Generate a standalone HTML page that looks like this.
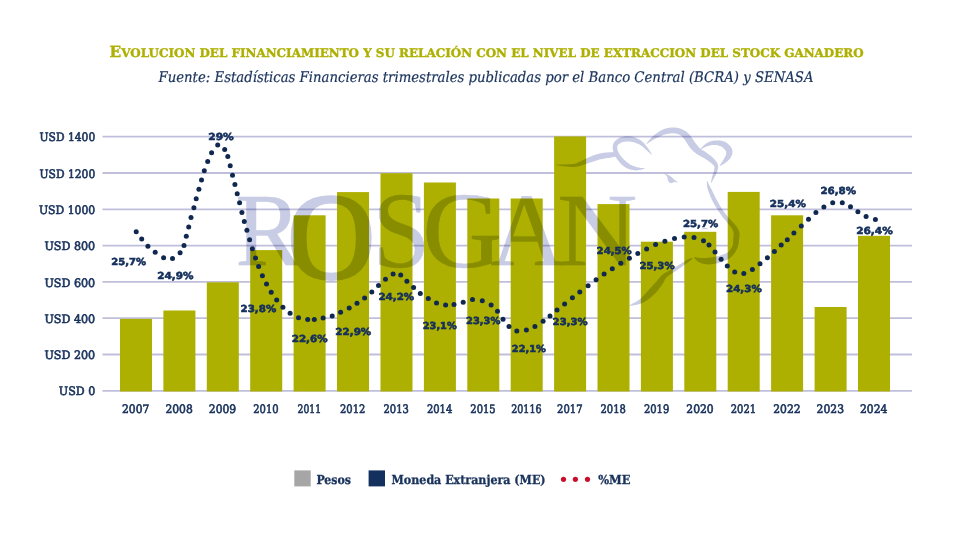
<!DOCTYPE html>
<html lang="es"><head><meta charset="utf-8"><title>Evolucion del financiamiento</title>
<style>html,body{margin:0;padding:0;background:#fff}svg{display:block;text-rendering:geometricPrecision}
.slab{font-family:"DejaVu Serif Condensed","DejaVu Serif","Liberation Serif",serif}
.sans{font-family:"DejaVu Sans","Liberation Sans",sans-serif;font-weight:bold}
.wm{font-family:"Liberation Serif",serif}
</style></head><body>
<svg width="963" height="536" viewBox="0 0 963 536">
<rect width="963" height="536" fill="#fff"/>
<text font-family="DejaVu Serif, Liberation Serif, serif" x="486.6" y="56.8" text-anchor="middle" font-weight="bold" fill="#adb000" stroke="#adb000" stroke-width="0.35" font-size="11.9" textLength="754" lengthAdjust="spacingAndGlyphs"><tspan font-size="15.3">E</tspan>VOLUCION DEL FINANCIAMIENTO Y SU RELACIÓN CON EL NIVEL DE EXTRACCION DEL STOCK GANADERO</text>
<text class="slab" x="486" y="81.9" text-anchor="middle" font-style="italic" fill="#1a335c" stroke="#1a335c" stroke-width="0.2" font-size="14.6" textLength="655" lengthAdjust="spacingAndGlyphs">Fuente: Estadísticas Financieras trimestrales publicadas por el Banco Central (BCRA) y SENASA</text>
<line x1="102.5" x2="912.0" y1="136.70" y2="136.70" stroke="#c0bfdb" stroke-width="1.8"/>
<text font-family="DejaVu Serif, Liberation Serif, serif" x="95.2" y="141.3" text-anchor="end" fill="#1a335c" stroke="#1a335c" stroke-width="0.65" font-size="11.7" textLength="55.6" lengthAdjust="spacingAndGlyphs">USD 1400</text>
<line x1="102.5" x2="912.0" y1="173.00" y2="173.00" stroke="#c0bfdb" stroke-width="1.8"/>
<text font-family="DejaVu Serif, Liberation Serif, serif" x="95.2" y="177.6" text-anchor="end" fill="#1a335c" stroke="#1a335c" stroke-width="0.65" font-size="11.7" textLength="55.6" lengthAdjust="spacingAndGlyphs">USD 1200</text>
<line x1="102.5" x2="912.0" y1="209.30" y2="209.30" stroke="#c0bfdb" stroke-width="1.8"/>
<text font-family="DejaVu Serif, Liberation Serif, serif" x="95.2" y="213.9" text-anchor="end" fill="#1a335c" stroke="#1a335c" stroke-width="0.65" font-size="11.7" textLength="56.2" lengthAdjust="spacingAndGlyphs">USD 1000</text>
<line x1="102.5" x2="912.0" y1="245.60" y2="245.60" stroke="#c0bfdb" stroke-width="1.8"/>
<text font-family="DejaVu Serif, Liberation Serif, serif" x="95.2" y="250.2" text-anchor="end" fill="#1a335c" stroke="#1a335c" stroke-width="0.65" font-size="11.7" textLength="50.8" lengthAdjust="spacingAndGlyphs">USD 800</text>
<line x1="102.5" x2="912.0" y1="281.90" y2="281.90" stroke="#c0bfdb" stroke-width="1.8"/>
<text font-family="DejaVu Serif, Liberation Serif, serif" x="95.2" y="286.5" text-anchor="end" fill="#1a335c" stroke="#1a335c" stroke-width="0.65" font-size="11.7" textLength="50.8" lengthAdjust="spacingAndGlyphs">USD 600</text>
<line x1="102.5" x2="912.0" y1="318.20" y2="318.20" stroke="#c0bfdb" stroke-width="1.8"/>
<text font-family="DejaVu Serif, Liberation Serif, serif" x="95.2" y="322.8" text-anchor="end" fill="#1a335c" stroke="#1a335c" stroke-width="0.65" font-size="11.7" textLength="50.8" lengthAdjust="spacingAndGlyphs">USD 400</text>
<line x1="102.5" x2="912.0" y1="354.50" y2="354.50" stroke="#c0bfdb" stroke-width="1.8"/>
<text font-family="DejaVu Serif, Liberation Serif, serif" x="95.2" y="359.1" text-anchor="end" fill="#1a335c" stroke="#1a335c" stroke-width="0.65" font-size="11.7" textLength="50.8" lengthAdjust="spacingAndGlyphs">USD 200</text>
<line x1="102.5" x2="912.0" y1="390.80" y2="390.80" stroke="#c0bfdb" stroke-width="1.8"/>
<text font-family="DejaVu Serif, Liberation Serif, serif" x="95.2" y="395.4" text-anchor="end" fill="#1a335c" stroke="#1a335c" stroke-width="0.65" font-size="11.7" textLength="36.4" lengthAdjust="spacingAndGlyphs">USD 0</text>
<rect x="120.0" y="318.9" width="32" height="72.6" fill="#adb000"/>
<text font-family="DejaVu Serif, Liberation Serif, serif" x="135.7" y="412.8" text-anchor="middle" fill="#1a335c" stroke="#1a335c" stroke-width="0.65" font-size="11.7" textLength="27.4" lengthAdjust="spacingAndGlyphs">2007</text>
<rect x="163.4" y="310.5" width="32" height="81.0" fill="#adb000"/>
<text font-family="DejaVu Serif, Liberation Serif, serif" x="179.1" y="412.8" text-anchor="middle" fill="#1a335c" stroke="#1a335c" stroke-width="0.65" font-size="11.7" textLength="27.4" lengthAdjust="spacingAndGlyphs">2008</text>
<rect x="206.8" y="282.3" width="32" height="109.2" fill="#adb000"/>
<text font-family="DejaVu Serif, Liberation Serif, serif" x="222.5" y="412.8" text-anchor="middle" fill="#1a335c" stroke="#1a335c" stroke-width="0.65" font-size="11.7" textLength="27.4" lengthAdjust="spacingAndGlyphs">2009</text>
<rect x="250.2" y="250.1" width="32" height="141.4" fill="#adb000"/>
<text font-family="DejaVu Serif, Liberation Serif, serif" x="265.9" y="412.8" text-anchor="middle" fill="#1a335c" stroke="#1a335c" stroke-width="0.65" font-size="11.7" textLength="25.4" lengthAdjust="spacingAndGlyphs">2010</text>
<rect x="293.6" y="215.3" width="32" height="176.2" fill="#adb000"/>
<text font-family="DejaVu Serif, Liberation Serif, serif" x="309.3" y="412.8" text-anchor="middle" fill="#1a335c" stroke="#1a335c" stroke-width="0.65" font-size="11.7" textLength="23.5" lengthAdjust="spacingAndGlyphs">2011</text>
<rect x="337.0" y="192.1" width="32" height="199.4" fill="#adb000"/>
<text font-family="DejaVu Serif, Liberation Serif, serif" x="352.7" y="412.8" text-anchor="middle" fill="#1a335c" stroke="#1a335c" stroke-width="0.65" font-size="11.7" textLength="25.4" lengthAdjust="spacingAndGlyphs">2012</text>
<rect x="380.5" y="173.2" width="32" height="218.3" fill="#adb000"/>
<text font-family="DejaVu Serif, Liberation Serif, serif" x="396.2" y="412.8" text-anchor="middle" fill="#1a335c" stroke="#1a335c" stroke-width="0.65" font-size="11.7" textLength="25.4" lengthAdjust="spacingAndGlyphs">2013</text>
<rect x="423.9" y="182.5" width="32" height="209.0" fill="#adb000"/>
<text font-family="DejaVu Serif, Liberation Serif, serif" x="439.6" y="412.8" text-anchor="middle" fill="#1a335c" stroke="#1a335c" stroke-width="0.65" font-size="11.7" textLength="25.4" lengthAdjust="spacingAndGlyphs">2014</text>
<rect x="467.3" y="198.5" width="32" height="193.0" fill="#adb000"/>
<text font-family="DejaVu Serif, Liberation Serif, serif" x="483.0" y="412.8" text-anchor="middle" fill="#1a335c" stroke="#1a335c" stroke-width="0.65" font-size="11.7" textLength="25.4" lengthAdjust="spacingAndGlyphs">2015</text>
<rect x="510.7" y="198.5" width="32" height="193.0" fill="#adb000"/>
<text font-family="DejaVu Serif, Liberation Serif, serif" x="526.4" y="412.8" text-anchor="middle" fill="#1a335c" stroke="#1a335c" stroke-width="0.65" font-size="11.7" textLength="30.4" lengthAdjust="spacingAndGlyphs">20116</text>
<rect x="554.1" y="136.4" width="32" height="255.1" fill="#adb000"/>
<text font-family="DejaVu Serif, Liberation Serif, serif" x="569.8" y="412.8" text-anchor="middle" fill="#1a335c" stroke="#1a335c" stroke-width="0.65" font-size="11.7" textLength="25.4" lengthAdjust="spacingAndGlyphs">2017</text>
<rect x="597.5" y="204.1" width="32" height="187.4" fill="#adb000"/>
<text font-family="DejaVu Serif, Liberation Serif, serif" x="613.2" y="412.8" text-anchor="middle" fill="#1a335c" stroke="#1a335c" stroke-width="0.65" font-size="11.7" textLength="25.4" lengthAdjust="spacingAndGlyphs">2018</text>
<rect x="640.9" y="241.7" width="32" height="149.8" fill="#adb000"/>
<text font-family="DejaVu Serif, Liberation Serif, serif" x="656.6" y="412.8" text-anchor="middle" fill="#1a335c" stroke="#1a335c" stroke-width="0.65" font-size="11.7" textLength="25.4" lengthAdjust="spacingAndGlyphs">2019</text>
<rect x="684.3" y="231.8" width="32" height="159.7" fill="#adb000"/>
<text font-family="DejaVu Serif, Liberation Serif, serif" x="700.0" y="412.8" text-anchor="middle" fill="#1a335c" stroke="#1a335c" stroke-width="0.65" font-size="11.7" textLength="27.4" lengthAdjust="spacingAndGlyphs">2020</text>
<rect x="727.7" y="191.9" width="32" height="199.6" fill="#adb000"/>
<text font-family="DejaVu Serif, Liberation Serif, serif" x="743.4" y="412.8" text-anchor="middle" fill="#1a335c" stroke="#1a335c" stroke-width="0.65" font-size="11.7" textLength="25.4" lengthAdjust="spacingAndGlyphs">2021</text>
<rect x="771.1" y="215.3" width="32" height="176.2" fill="#adb000"/>
<text font-family="DejaVu Serif, Liberation Serif, serif" x="786.9" y="412.8" text-anchor="middle" fill="#1a335c" stroke="#1a335c" stroke-width="0.65" font-size="11.7" textLength="27.4" lengthAdjust="spacingAndGlyphs">2022</text>
<rect x="814.6" y="307.0" width="32" height="84.5" fill="#adb000"/>
<text font-family="DejaVu Serif, Liberation Serif, serif" x="830.3" y="412.8" text-anchor="middle" fill="#1a335c" stroke="#1a335c" stroke-width="0.65" font-size="11.7" textLength="27.4" lengthAdjust="spacingAndGlyphs">2023</text>
<rect x="858.0" y="235.8" width="32" height="155.7" fill="#adb000"/>
<text font-family="DejaVu Serif, Liberation Serif, serif" x="873.7" y="412.8" text-anchor="middle" fill="#1a335c" stroke="#1a335c" stroke-width="0.65" font-size="11.7" textLength="27.4" lengthAdjust="spacingAndGlyphs">2024</text>
<g fill="#c8cce4" stroke="#c8cce4" stroke-width="0.5" stroke-linejoin="round" class="wm" font-size="104" style="mix-blend-mode:multiply">
<text transform="translate(235.4 265.3) scale(0.950 1.000)">R</text>
<text transform="translate(287.6 277.5) scale(1.000 1.012)" font-size="121" stroke-width="3.4">O</text>
<text transform="translate(372.2 266.6) scale(1.000 1.045)">S</text>
<text transform="translate(422.2 266.6) scale(1.065 1.045)">G</text>
<text transform="translate(490.5 265.3) scale(0.980 1.000)">A</text>
<text transform="translate(557.0 265.3) scale(1.070 1.000)">N</text>
</g>
<g fill="#c8cce4" style="mix-blend-mode:multiply">
<path d="M556.0 165.0 L556.7 165.1 L557.5 165.3 L558.6 165.5 L559.8 165.7 L561.0 165.9 L562.3 166.1 L563.7 166.2 L565.0 166.4 L566.3 166.5 L567.6 166.6 L569.1 166.8 L570.5 166.9 L572.0 166.9 L573.5 167.0 L575.0 166.9 L576.5 166.8 L578.0 166.5 L579.4 166.2 L580.7 165.8 L582.0 165.3 L583.3 164.9 L584.6 164.4 L585.9 163.9 L587.2 163.5 L588.7 163.0 L590.2 162.5 L591.8 161.9 L593.4 161.4 L594.9 160.9 L596.5 160.4 L598.0 159.9 L599.3 159.5 L600.7 159.2 L602.1 158.9 L603.5 158.7 L604.9 158.5 L606.2 158.3 L607.6 158.1 L608.9 157.9 L610.1 157.7 L611.2 157.5 L612.4 157.3 L613.5 157.1 L614.5 157.0 L615.5 156.8 L616.4 156.7 L617.1 156.5 L617.7 156.4 L617.5 152.6 L616.9 152.5 L616.2 152.5 L615.3 152.4 L614.3 152.3 L613.2 152.3 L612.0 152.2 L610.7 152.2 L609.5 152.3 L608.3 152.4 L607.0 152.5 L605.6 152.6 L604.1 152.7 L602.6 152.9 L601.0 153.2 L599.4 153.5 L597.9 153.9 L596.2 154.4 L594.6 154.9 L593.0 155.6 L591.4 156.2 L589.8 156.9 L588.3 157.6 L586.8 158.3 L585.4 158.9 L584.0 159.5 L582.7 160.2 L581.5 160.9 L580.3 161.5 L579.2 162.1 L578.1 162.6 L577.0 163.1 L575.9 163.4 L574.6 163.7 L573.3 163.9 L571.9 164.1 L570.5 164.2 L569.1 164.3 L567.7 164.3 L566.3 164.4 L565.0 164.4 L563.7 164.5 L562.4 164.5 L561.1 164.6 L559.8 164.6 L558.7 164.6 L557.6 164.6 L556.7 164.6 L556.0 164.6Z M652.0 154.9 L651.7 154.5 L651.4 153.9 L651.1 153.3 L650.7 152.6 L650.3 151.8 L649.8 151.0 L649.3 150.1 L648.7 149.3 L648.1 148.5 L647.4 147.5 L646.7 146.5 L645.9 145.5 L645.1 144.5 L644.2 143.5 L643.2 142.5 L642.2 141.6 L641.2 140.8 L640.1 140.0 L638.9 139.3 L637.7 138.7 L636.5 138.1 L635.3 137.6 L634.0 137.1 L632.8 136.8 L631.5 136.5 L630.2 136.3 L628.9 136.2 L627.6 136.2 L626.3 136.2 L625.0 136.3 L623.8 136.5 L622.6 136.8 L621.4 137.1 L620.3 137.6 L619.2 138.1 L618.2 138.6 L617.2 139.3 L616.3 140.0 L615.5 140.7 L614.7 141.5 L614.1 142.3 L613.6 143.2 L613.2 144.2 L613.0 145.1 L612.8 146.0 L612.7 146.9 L612.7 147.8 L612.7 148.6 L612.8 149.6 L613.0 150.5 L613.3 151.4 L613.6 152.3 L613.9 153.2 L614.2 154.0 L614.6 154.8 L615.0 155.5 L615.4 156.3 L615.8 157.0 L616.2 157.8 L616.7 158.5 L617.1 159.2 L617.6 159.8 L618.1 160.5 L618.6 161.1 L619.1 161.7 L619.7 162.4 L620.2 163.0 L620.8 163.7 L621.4 164.3 L622.0 164.9 L622.7 165.5 L623.4 166.1 L624.1 166.6 L624.8 167.0 L625.6 167.5 L626.4 167.9 L627.2 168.3 L628.0 168.7 L628.8 169.0 L629.7 169.3 L630.5 169.6 L631.4 169.8 L632.2 170.0 L633.1 170.1 L634.1 170.3 L635.0 170.3 L635.9 170.4 L636.9 170.4 L637.9 170.3 L639.0 170.1 L640.1 169.9 L641.2 169.6 L642.2 169.4 L643.2 169.1 L643.9 168.9 L644.5 168.8 L644.5 168.2 L643.9 168.2 L643.1 168.1 L642.1 168.0 L641.1 167.9 L640.0 167.8 L639.0 167.6 L638.0 167.4 L637.1 167.2 L636.4 167.0 L635.6 166.8 L634.8 166.6 L634.1 166.3 L633.4 166.0 L632.7 165.7 L632.0 165.4 L631.3 165.1 L630.7 164.8 L630.1 164.4 L629.5 164.0 L628.9 163.6 L628.3 163.2 L627.7 162.8 L627.1 162.4 L626.6 161.9 L626.1 161.5 L625.5 161.0 L625.0 160.6 L624.5 160.1 L623.9 159.5 L623.4 159.0 L622.9 158.5 L622.4 157.9 L621.9 157.4 L621.4 156.8 L621.0 156.3 L620.5 155.7 L620.1 155.2 L619.7 154.6 L619.4 154.1 L619.0 153.5 L618.7 152.8 L618.4 152.1 L618.1 151.4 L617.8 150.8 L617.6 150.1 L617.4 149.5 L617.3 148.9 L617.3 148.4 L617.3 147.8 L617.3 147.2 L617.3 146.6 L617.4 146.1 L617.6 145.7 L617.8 145.2 L618.0 144.9 L618.3 144.5 L618.7 144.2 L619.2 143.8 L619.9 143.4 L620.6 143.0 L621.4 142.6 L622.2 142.3 L623.0 142.0 L623.8 141.8 L624.6 141.7 L625.6 141.6 L626.6 141.5 L627.6 141.5 L628.6 141.5 L629.6 141.6 L630.7 141.7 L631.6 141.8 L632.6 142.0 L633.7 142.3 L634.8 142.6 L635.8 143.0 L636.9 143.4 L638.0 143.8 L639.0 144.3 L640.0 144.8 L640.9 145.4 L641.8 146.0 L642.8 146.8 L643.7 147.6 L644.6 148.4 L645.5 149.2 L646.3 150.0 L647.1 150.7 L647.8 151.3 L648.5 152.0 L649.2 152.6 L649.8 153.3 L650.4 153.8 L650.9 154.3 L651.3 154.8 L651.6 155.1Z M646.9 144.0 L647.3 143.7 L647.7 143.4 L648.3 143.0 L649.0 142.5 L649.7 142.0 L650.4 141.6 L651.1 141.1 L651.8 140.7 L652.4 140.3 L653.0 139.9 L653.6 139.5 L654.3 139.2 L654.9 138.8 L655.6 138.5 L656.3 138.1 L657.2 137.7 L658.2 137.2 L659.3 136.7 L660.4 136.2 L661.6 135.7 L662.8 135.2 L663.9 134.8 L665.0 134.4 L666.0 134.1 L667.0 133.9 L668.0 133.7 L669.1 133.5 L670.1 133.4 L671.1 133.3 L672.0 133.3 L673.0 133.3 L673.9 133.3 L674.8 133.4 L675.7 133.6 L676.6 133.8 L677.4 134.0 L678.3 134.3 L679.1 134.6 L679.8 135.0 L680.5 135.3 L681.1 135.7 L681.7 136.2 L682.2 136.7 L682.7 137.2 L683.3 137.8 L683.8 138.5 L684.4 139.2 L684.9 139.9 L685.4 140.5 L685.8 141.2 L686.3 142.0 L686.7 142.8 L687.3 143.7 L687.8 144.6 L688.5 145.6 L689.1 146.5 L689.8 147.4 L690.5 148.2 L691.2 149.0 L692.0 149.9 L692.8 150.7 L693.6 151.5 L694.6 152.3 L695.5 153.1 L696.6 153.9 L697.7 154.6 L698.8 155.2 L699.9 155.8 L701.0 156.4 L702.0 157.0 L703.0 157.5 L703.9 158.0 L704.8 158.6 L705.7 159.2 L706.6 159.8 L707.5 160.3 L708.3 160.9 L709.1 161.5 L709.8 162.0 L710.4 162.5 L711.1 163.0 L711.7 163.6 L712.3 164.1 L712.8 164.5 L713.3 165.0 L713.7 165.4 L714.0 165.9 L714.2 166.3 L714.4 166.7 L714.5 167.1 L714.5 167.6 L714.4 168.2 L714.3 168.8 L714.2 169.5 L714.1 170.2 L713.9 170.9 L713.8 171.5 L713.6 172.2 L713.4 172.9 L713.2 173.6 L712.9 174.3 L712.7 175.0 L712.4 175.8 L712.2 176.6 L712.0 177.4 L711.8 178.3 L711.6 179.2 L711.4 180.1 L711.2 180.9 L711.1 181.7 L711.0 182.3 L710.9 182.8 L711.3 183.0 L711.6 182.6 L711.9 182.0 L712.3 181.3 L712.7 180.5 L713.1 179.7 L713.6 178.9 L714.0 178.1 L714.4 177.4 L714.7 176.7 L715.1 176.1 L715.5 175.4 L715.8 174.7 L716.2 174.0 L716.5 173.2 L716.8 172.5 L717.1 171.7 L717.3 171.0 L717.5 170.3 L717.7 169.5 L717.9 168.8 L718.1 167.9 L718.2 167.0 L718.1 166.1 L718.0 165.1 L717.7 164.2 L717.3 163.3 L716.9 162.5 L716.4 161.7 L715.8 160.9 L715.2 160.2 L714.6 159.4 L714.0 158.7 L713.2 158.0 L712.4 157.2 L711.6 156.5 L710.7 155.8 L709.8 155.2 L708.9 154.5 L708.0 153.8 L707.1 153.2 L706.1 152.5 L705.1 151.8 L704.1 151.1 L703.0 150.5 L702.1 149.9 L701.2 149.3 L700.4 148.7 L699.7 148.1 L699.0 147.5 L698.4 146.8 L697.8 146.1 L697.2 145.3 L696.6 144.6 L696.0 143.8 L695.4 143.0 L694.9 142.3 L694.3 141.5 L693.9 140.8 L693.4 140.0 L692.9 139.2 L692.3 138.3 L691.7 137.4 L691.0 136.4 L690.3 135.5 L689.6 134.7 L688.8 134.0 L688.1 133.2 L687.3 132.5 L686.4 131.8 L685.5 131.1 L684.5 130.4 L683.5 129.9 L682.4 129.4 L681.3 128.9 L680.2 128.5 L679.1 128.2 L677.9 127.9 L676.7 127.7 L675.5 127.6 L674.3 127.5 L673.1 127.5 L671.9 127.5 L670.6 127.6 L669.4 127.7 L668.1 127.9 L666.9 128.2 L665.6 128.5 L664.4 128.9 L663.1 129.4 L661.8 130.0 L660.6 130.7 L659.4 131.5 L658.2 132.2 L657.1 133.0 L656.1 133.7 L655.2 134.3 L654.4 134.9 L653.6 135.5 L653.0 136.1 L652.4 136.7 L651.8 137.2 L651.3 137.8 L650.8 138.3 L650.2 138.9 L649.7 139.5 L649.1 140.2 L648.6 140.9 L648.1 141.6 L647.6 142.2 L647.2 142.8 L646.8 143.3 L646.5 143.6Z M701.2 149.2 L701.8 148.9 L702.6 148.5 L703.4 148.0 L704.4 147.5 L705.5 147.0 L706.5 146.6 L707.5 146.2 L708.4 145.9 L709.2 145.7 L710.1 145.4 L711.0 145.3 L712.0 145.1 L712.9 145.0 L713.8 144.9 L714.6 144.9 L715.5 145.0 L716.4 145.1 L717.3 145.2 L718.2 145.4 L719.1 145.7 L719.9 146.0 L720.7 146.3 L721.5 146.6 L722.1 147.0 L722.6 147.4 L723.2 147.8 L723.7 148.4 L724.3 148.9 L724.7 149.5 L725.2 150.1 L725.5 150.6 L725.8 151.0 L725.9 151.3 L726.0 151.6 L726.1 151.8 L726.2 152.1 L726.2 152.4 L726.2 152.8 L726.2 153.2 L726.2 153.7 L726.1 154.1 L726.0 154.7 L725.8 155.2 L725.5 155.9 L725.2 156.6 L724.8 157.3 L724.4 158.0 L724.0 158.8 L723.6 159.6 L723.0 160.5 L722.4 161.4 L721.8 162.4 L721.1 163.3 L720.6 164.2 L720.1 164.9 L719.7 165.4 L720.3 166.0 L720.8 165.6 L721.5 165.2 L722.4 164.7 L723.4 164.1 L724.4 163.5 L725.4 162.8 L726.4 162.1 L727.2 161.4 L727.9 160.8 L728.6 160.1 L729.2 159.4 L729.9 158.7 L730.4 157.9 L731.0 157.1 L731.4 156.2 L731.8 155.3 L732.1 154.5 L732.3 153.6 L732.4 152.7 L732.5 151.7 L732.4 150.8 L732.2 149.8 L731.9 148.8 L731.4 147.8 L730.9 146.9 L730.2 146.1 L729.5 145.2 L728.7 144.4 L727.8 143.7 L726.8 143.0 L725.8 142.3 L724.7 141.8 L723.6 141.4 L722.5 141.0 L721.3 140.8 L720.1 140.6 L719.0 140.4 L717.8 140.4 L716.6 140.4 L715.5 140.4 L714.4 140.5 L713.3 140.7 L712.2 140.9 L711.1 141.2 L710.0 141.6 L709.0 142.0 L708.0 142.4 L707.0 142.9 L706.1 143.5 L705.1 144.3 L704.2 145.1 L703.3 146.0 L702.5 146.8 L701.8 147.5 L701.2 148.1 L700.8 148.6Z M706.9 181.3 L706.9 181.6 L706.9 182.1 L706.9 182.7 L706.9 183.4 L706.9 184.1 L706.9 184.9 L707.0 185.7 L707.1 186.4 L707.2 187.1 L707.4 187.8 L707.5 188.5 L707.7 189.1 L708.0 189.9 L708.2 190.6 L708.5 191.4 L708.8 192.2 L709.2 193.1 L709.5 194.1 L709.9 195.1 L710.4 196.2 L710.8 197.3 L711.3 198.4 L711.8 199.6 L712.3 200.6 L712.9 201.7 L713.5 202.8 L714.1 203.9 L714.7 204.9 L715.3 206.0 L715.9 207.0 L716.6 208.1 L717.2 209.1 L717.9 210.2 L718.6 211.2 L719.3 212.2 L720.0 213.3 L720.7 214.3 L721.4 215.3 L722.1 216.3 L722.8 217.3 L723.6 218.2 L724.3 219.1 L725.0 220.0 L725.7 220.8 L726.4 221.6 L727.1 222.4 L727.7 223.2 L728.3 223.9 L728.9 224.7 L729.6 225.4 L730.2 226.2 L730.7 226.8 L731.2 227.5 L731.7 228.1 L732.1 228.7 L732.4 229.3 L732.7 229.9 L733.0 230.5 L733.2 231.1 L733.3 231.7 L733.5 232.2 L733.6 232.8 L733.6 233.3 L733.7 233.8 L733.7 234.3 L733.7 234.9 L733.6 235.6 L733.5 236.4 L733.4 237.2 L733.3 238.0 L733.2 238.9 L733.1 239.7 L733.1 240.6 L733.1 241.3 L733.1 241.9 L733.1 242.5 L733.1 243.0 L733.1 243.4 L733.1 243.8 L733.0 244.3 L732.8 244.8 L732.6 245.5 L732.4 246.1 L732.1 246.7 L731.8 247.3 L731.5 247.9 L731.1 248.5 L730.7 249.1 L730.2 249.8 L729.7 250.4 L729.2 251.0 L728.7 251.5 L728.2 252.0 L727.6 252.5 L726.9 252.9 L726.2 253.3 L725.3 253.8 L724.2 254.2 L723.0 254.6 L721.7 255.1 L720.3 255.5 L719.0 255.9 L717.6 256.2 L716.4 256.5 L715.2 256.8 L713.9 257.0 L712.7 257.2 L711.4 257.4 L710.2 257.5 L709.0 257.7 L707.9 257.8 L706.8 257.9 L705.8 257.9 L704.9 258.0 L703.9 258.0 L703.0 258.0 L702.1 258.0 L701.2 257.9 L700.3 257.9 L699.6 257.8 L698.9 257.8 L698.2 257.7 L697.5 257.6 L696.8 257.4 L696.1 257.3 L695.5 257.1 L695.0 257.0 L694.6 256.9 L694.2 257.5 L694.4 257.8 L694.7 258.3 L695.1 258.8 L695.5 259.4 L696.0 260.0 L696.7 260.6 L697.4 261.3 L698.2 261.8 L699.1 262.2 L700.0 262.6 L700.9 263.0 L702.0 263.4 L703.1 263.7 L704.3 264.0 L705.5 264.2 L706.8 264.3 L708.1 264.4 L709.4 264.4 L710.8 264.3 L712.2 264.2 L713.7 264.0 L715.1 263.7 L716.6 263.4 L718.0 263.1 L719.4 262.7 L720.9 262.2 L722.4 261.7 L723.9 261.1 L725.3 260.5 L726.7 259.9 L728.0 259.2 L729.2 258.5 L730.3 257.7 L731.3 257.0 L732.1 256.1 L732.9 255.3 L733.5 254.5 L734.1 253.7 L734.6 253.0 L735.1 252.3 L735.7 251.5 L736.2 250.6 L736.6 249.8 L737.0 249.0 L737.4 248.1 L737.7 247.3 L738.0 246.5 L738.2 245.7 L738.4 244.9 L738.6 244.1 L738.7 243.3 L738.8 242.6 L738.8 242.0 L738.8 241.4 L738.9 240.8 L738.9 240.3 L739.0 239.6 L739.1 238.9 L739.3 238.1 L739.4 237.2 L739.5 236.2 L739.6 235.2 L739.6 234.2 L739.5 233.2 L739.3 232.2 L739.1 231.3 L738.8 230.5 L738.4 229.7 L738.0 228.9 L737.6 228.2 L737.1 227.4 L736.6 226.7 L736.1 225.9 L735.5 225.2 L734.8 224.5 L734.2 223.8 L733.6 223.1 L732.9 222.4 L732.3 221.8 L731.7 221.1 L731.0 220.3 L730.3 219.6 L729.6 218.8 L728.9 218.0 L728.2 217.2 L727.5 216.4 L726.8 215.6 L726.2 214.7 L725.5 213.8 L724.8 212.9 L724.1 211.9 L723.4 210.9 L722.7 209.9 L722.1 208.9 L721.4 207.9 L720.8 206.9 L720.1 205.9 L719.5 204.9 L718.9 203.8 L718.3 202.8 L717.7 201.8 L717.1 200.8 L716.6 199.8 L716.1 198.8 L715.5 197.7 L715.0 196.7 L714.5 195.7 L714.0 194.6 L713.5 193.6 L713.0 192.6 L712.6 191.7 L712.2 190.8 L711.8 190.0 L711.4 189.2 L711.1 188.6 L710.7 187.9 L710.4 187.3 L710.1 186.8 L709.8 186.2 L709.5 185.6 L709.2 185.0 L708.9 184.4 L708.6 183.7 L708.3 183.1 L708.1 182.5 L707.8 182.0 L707.6 181.5 L707.5 181.1Z M629.5 306.0 L630.5 305.8 L631.7 305.6 L633.3 305.4 L635.0 305.1 L636.8 304.8 L638.7 304.3 L640.5 303.8 L642.3 303.0 L643.9 302.2 L645.5 301.2 L647.1 300.2 L648.6 299.1 L650.1 297.9 L651.5 296.8 L652.8 295.6 L654.1 294.5 L655.3 293.3 L656.5 292.1 L657.5 290.8 L658.5 289.6 L659.5 288.3 L660.3 287.1 L661.2 286.0 L662.0 284.9 L662.7 283.8 L663.3 282.7 L663.9 281.7 L664.3 280.7 L664.8 279.9 L665.2 279.1 L665.6 278.4 L666.2 277.7 L666.8 277.1 L667.6 276.4 L668.4 275.8 L669.3 275.2 L670.3 274.6 L671.3 274.0 L672.4 273.3 L673.4 272.6 L674.3 272.0 L675.3 271.3 L676.3 270.6 L677.3 269.9 L678.2 269.2 L679.2 268.6 L680.2 267.9 L681.2 267.2 L682.2 266.5 L683.2 265.8 L684.2 265.1 L685.2 264.4 L686.2 263.7 L687.2 263.0 L688.0 262.4 L688.8 261.8 L689.5 261.3 L690.1 260.8 L690.7 260.3 L691.2 259.9 L691.7 259.4 L692.1 259.1 L692.4 258.8 L692.7 258.5 L692.3 257.9 L692.0 258.0 L691.5 258.1 L691.0 258.2 L690.4 258.4 L689.7 258.6 L689.0 258.9 L688.2 259.2 L687.4 259.6 L686.5 260.1 L685.6 260.6 L684.6 261.3 L683.6 261.9 L682.5 262.6 L681.5 263.3 L680.5 264.0 L679.4 264.6 L678.4 265.2 L677.4 265.9 L676.4 266.5 L675.4 267.1 L674.4 267.7 L673.4 268.4 L672.4 269.0 L671.4 269.6 L670.4 270.1 L669.4 270.6 L668.4 271.1 L667.3 271.7 L666.2 272.2 L665.2 272.8 L664.1 273.5 L663.0 274.3 L662.1 275.1 L661.2 275.9 L660.4 276.8 L659.7 277.6 L659.0 278.4 L658.3 279.2 L657.6 280.0 L656.8 280.9 L656.0 281.9 L655.0 282.9 L654.1 284.0 L653.1 285.1 L652.1 286.2 L651.1 287.3 L650.1 288.4 L649.1 289.5 L648.0 290.7 L646.9 292.0 L645.7 293.3 L644.6 294.6 L643.4 295.8 L642.2 297.0 L641.1 298.2 L639.9 299.2 L638.7 300.1 L637.3 301.0 L635.7 301.9 L634.2 302.8 L632.7 303.6 L631.3 304.3 L630.2 304.9 L629.3 305.4Z M664 173.6 C668 174.3 672 177 674 179.6 L678.3 182.7 C675.5 182.3 673.8 181.4 672.6 182.8 C670 184.2 667.4 181.2 667.6 178.2 C667.2 176 665.6 174.8 664 173.6Z M701 229.6 C703 227.6 706.5 227.6 708.5 229.4 C706 228.9 703.5 229 701 229.6Z"/>
</g>
<g fill="#10284f">
<circle cx="136.2" cy="231.8" r="2.5"/>
<circle cx="141.7" cy="239.1" r="2.5"/>
<circle cx="147.9" cy="246.2" r="2.5"/>
<circle cx="155.2" cy="252.2" r="2.5"/>
<circle cx="163.6" cy="257.7" r="2.5"/>
<circle cx="172.5" cy="258.5" r="2.5"/>
<circle cx="180.1" cy="252.7" r="2.5"/>
<circle cx="184.0" cy="245.4" r="2.5"/>
<circle cx="186.3" cy="236.3" r="2.5"/>
<circle cx="188.7" cy="227.1" r="2.5"/>
<circle cx="191.0" cy="217.5" r="2.5"/>
<circle cx="193.9" cy="207.8" r="2.5"/>
<circle cx="196.2" cy="198.7" r="2.5"/>
<circle cx="198.9" cy="189.3" r="2.5"/>
<circle cx="201.5" cy="179.9" r="2.5"/>
<circle cx="204.3" cy="170.7" r="2.5"/>
<circle cx="207.7" cy="161.6" r="2.5"/>
<circle cx="211.6" cy="152.7" r="2.5"/>
<circle cx="217.7" cy="145.1" r="2.5"/>
<circle cx="224.7" cy="149.6" r="2.5"/>
<circle cx="227.8" cy="156.6" r="2.5"/>
<circle cx="230.2" cy="165.8" r="2.5"/>
<circle cx="232.5" cy="175.2" r="2.5"/>
<circle cx="234.9" cy="184.6" r="2.5"/>
<circle cx="237.2" cy="193.7" r="2.5"/>
<circle cx="239.6" cy="202.8" r="2.5"/>
<circle cx="241.9" cy="212.5" r="2.5"/>
<circle cx="244.3" cy="221.4" r="2.5"/>
<circle cx="246.9" cy="230.3" r="2.5"/>
<circle cx="249.6" cy="239.8" r="2.5"/>
<circle cx="252.4" cy="248.8" r="2.5"/>
<circle cx="255.5" cy="258.0" r="2.5"/>
<circle cx="258.6" cy="266.6" r="2.5"/>
<circle cx="262.4" cy="275.7" r="2.5"/>
<circle cx="266.5" cy="283.9" r="2.5"/>
<circle cx="271.2" cy="292.3" r="2.5"/>
<circle cx="276.7" cy="300.1" r="2.5"/>
<circle cx="282.9" cy="307.3" r="2.5"/>
<circle cx="290.1" cy="313.3" r="2.5"/>
<circle cx="298.5" cy="317.8" r="2.5"/>
<circle cx="307.7" cy="319.6" r="2.5"/>
<circle cx="314.3" cy="319.6" r="2.5"/>
<circle cx="323.1" cy="318.0" r="2.5"/>
<circle cx="332.2" cy="315.9" r="2.5"/>
<circle cx="340.6" cy="312.3" r="2.5"/>
<circle cx="349.2" cy="308.1" r="2.5"/>
<circle cx="357.0" cy="303.2" r="2.5"/>
<circle cx="364.6" cy="297.9" r="2.5"/>
<circle cx="371.8" cy="291.9" r="2.5"/>
<circle cx="378.5" cy="285.6" r="2.5"/>
<circle cx="385.5" cy="279.2" r="2.5"/>
<circle cx="393.1" cy="274.1" r="2.5"/>
<circle cx="400.7" cy="274.9" r="2.5"/>
<circle cx="406.9" cy="281.3" r="2.5"/>
<circle cx="413.6" cy="287.6" r="2.5"/>
<circle cx="420.3" cy="293.6" r="2.5"/>
<circle cx="428.3" cy="298.6" r="2.5"/>
<circle cx="436.5" cy="303.0" r="2.5"/>
<circle cx="445.6" cy="305.0" r="2.5"/>
<circle cx="454.0" cy="304.6" r="2.5"/>
<circle cx="463.2" cy="302.3" r="2.5"/>
<circle cx="472.5" cy="299.5" r="2.5"/>
<circle cx="482.3" cy="300.7" r="2.5"/>
<circle cx="491.1" cy="305.0" r="2.5"/>
<circle cx="497.5" cy="311.2" r="2.5"/>
<circle cx="503.0" cy="319.2" r="2.5"/>
<circle cx="509.0" cy="326.4" r="2.5"/>
<circle cx="516.8" cy="330.9" r="2.5"/>
<circle cx="526.4" cy="330.0" r="2.5"/>
<circle cx="534.9" cy="326.6" r="2.5"/>
<circle cx="543.1" cy="321.2" r="2.5"/>
<circle cx="550.0" cy="316.1" r="2.5"/>
<circle cx="557.0" cy="310.1" r="2.5"/>
<circle cx="564.6" cy="304.1" r="2.5"/>
<circle cx="572.4" cy="297.8" r="2.5"/>
<circle cx="579.8" cy="291.9" r="2.5"/>
<circle cx="588.1" cy="285.8" r="2.5"/>
<circle cx="596.1" cy="279.8" r="2.5"/>
<circle cx="604.1" cy="274.1" r="2.5"/>
<circle cx="612.3" cy="268.8" r="2.5"/>
<circle cx="620.8" cy="263.2" r="2.5"/>
<circle cx="629.4" cy="258.3" r="2.5"/>
<circle cx="637.8" cy="253.6" r="2.5"/>
<circle cx="646.6" cy="248.9" r="2.5"/>
<circle cx="655.6" cy="244.5" r="2.5"/>
<circle cx="664.9" cy="241.3" r="2.5"/>
<circle cx="674.5" cy="238.4" r="2.5"/>
<circle cx="684.2" cy="236.9" r="2.5"/>
<circle cx="694.0" cy="237.6" r="2.5"/>
<circle cx="703.5" cy="240.8" r="2.5"/>
<circle cx="709.0" cy="245.0" r="2.5"/>
<circle cx="715.0" cy="251.9" r="2.5"/>
<circle cx="721.1" cy="259.3" r="2.5"/>
<circle cx="727.3" cy="266.1" r="2.5"/>
<circle cx="734.7" cy="272.1" r="2.5"/>
<circle cx="743.8" cy="273.6" r="2.5"/>
<circle cx="752.4" cy="269.5" r="2.5"/>
<circle cx="760.0" cy="263.7" r="2.5"/>
<circle cx="767.4" cy="257.8" r="2.5"/>
<circle cx="774.4" cy="251.4" r="2.5"/>
<circle cx="781.2" cy="245.1" r="2.5"/>
<circle cx="787.3" cy="239.7" r="2.5"/>
<circle cx="793.9" cy="233.0" r="2.5"/>
<circle cx="801.3" cy="226.0" r="2.5"/>
<circle cx="808.5" cy="219.2" r="2.5"/>
<circle cx="815.9" cy="212.6" r="2.5"/>
<circle cx="823.9" cy="206.9" r="2.5"/>
<circle cx="832.7" cy="202.8" r="2.5"/>
<circle cx="842.3" cy="202.8" r="2.5"/>
<circle cx="850.5" cy="206.7" r="2.5"/>
<circle cx="857.9" cy="211.8" r="2.5"/>
<circle cx="866.1" cy="216.5" r="2.5"/>
<circle cx="875.4" cy="219.6" r="2.5"/>
</g>
<text class="sans" x="111.3" y="264.7" fill="#142f5c" stroke="#142f5c" stroke-width="0.6" font-size="9.7" textLength="34.8" lengthAdjust="spacingAndGlyphs">25,7%</text>
<text class="sans" x="157.3" y="279.1" fill="#142f5c" stroke="#142f5c" stroke-width="0.6" font-size="9.7" textLength="36.2" lengthAdjust="spacingAndGlyphs">24,9%</text>
<text class="sans" x="208.3" y="140.1" fill="#142f5c" stroke="#142f5c" stroke-width="0.6" font-size="9.7" textLength="25.5" lengthAdjust="spacingAndGlyphs">29%</text>
<text class="sans" x="240.6" y="311.8" fill="#142f5c" stroke="#142f5c" stroke-width="0.6" font-size="9.7" textLength="35.6" lengthAdjust="spacingAndGlyphs">23,8%</text>
<text class="sans" x="291.7" y="341.5" fill="#142f5c" stroke="#142f5c" stroke-width="0.6" font-size="9.7" textLength="35.9" lengthAdjust="spacingAndGlyphs">22,6%</text>
<text class="sans" x="335.3" y="335.2" fill="#142f5c" stroke="#142f5c" stroke-width="0.6" font-size="9.7" textLength="35.9" lengthAdjust="spacingAndGlyphs">22,9%</text>
<text class="sans" x="378.4" y="299.5" fill="#142f5c" stroke="#142f5c" stroke-width="0.6" font-size="9.7" textLength="35.8" lengthAdjust="spacingAndGlyphs">24,2%</text>
<text class="sans" x="422.8" y="328.8" fill="#142f5c" stroke="#142f5c" stroke-width="0.6" font-size="9.7" textLength="33.9" lengthAdjust="spacingAndGlyphs">23,1%</text>
<text class="sans" x="466.0" y="324.2" fill="#142f5c" stroke="#142f5c" stroke-width="0.6" font-size="9.7" textLength="34.4" lengthAdjust="spacingAndGlyphs">23,3%</text>
<text class="sans" x="511.8" y="352.3" fill="#142f5c" stroke="#142f5c" stroke-width="0.6" font-size="9.7" textLength="34.1" lengthAdjust="spacingAndGlyphs">22,1%</text>
<text class="sans" x="552.6" y="324.6" fill="#142f5c" stroke="#142f5c" stroke-width="0.6" font-size="9.7" textLength="35.1" lengthAdjust="spacingAndGlyphs">23,3%</text>
<text class="sans" x="596.6" y="254.3" fill="#142f5c" stroke="#142f5c" stroke-width="0.6" font-size="9.7" textLength="35.1" lengthAdjust="spacingAndGlyphs">24,5%</text>
<text class="sans" x="639.4" y="268.7" fill="#142f5c" stroke="#142f5c" stroke-width="0.6" font-size="9.7" textLength="35.2" lengthAdjust="spacingAndGlyphs">25,3%</text>
<text class="sans" x="682.9" y="226.6" fill="#142f5c" stroke="#142f5c" stroke-width="0.6" font-size="9.7" textLength="35.3" lengthAdjust="spacingAndGlyphs">25,7%</text>
<text class="sans" x="726.0" y="291.8" fill="#142f5c" stroke="#142f5c" stroke-width="0.6" font-size="9.7" textLength="35.7" lengthAdjust="spacingAndGlyphs">24,3%</text>
<text class="sans" x="769.8" y="207.2" fill="#142f5c" stroke="#142f5c" stroke-width="0.6" font-size="9.7" textLength="36.0" lengthAdjust="spacingAndGlyphs">25,4%</text>
<text class="sans" x="820.4" y="193.7" fill="#142f5c" stroke="#142f5c" stroke-width="0.6" font-size="9.7" textLength="35.7" lengthAdjust="spacingAndGlyphs">26,8%</text>
<text class="sans" x="856.2" y="234.3" fill="#142f5c" stroke="#142f5c" stroke-width="0.6" font-size="9.7" textLength="36.6" lengthAdjust="spacingAndGlyphs">26,4%</text>
<rect x="294.3" y="470.4" width="16.4" height="16" fill="#a6a6a6"/>
<text class="slab" x="316.4" y="483.5" font-weight="bold" fill="#1a335c" stroke="#1a335c" stroke-width="0.3" font-size="12.4" textLength="34.6" lengthAdjust="spacingAndGlyphs">Pesos</text>
<rect x="368.6" y="470.4" width="16.4" height="16" fill="#14305f"/>
<text class="slab" x="391.6" y="483.5" font-weight="bold" fill="#1a335c" stroke="#1a335c" stroke-width="0.3" font-size="12.4" textLength="154" lengthAdjust="spacingAndGlyphs">Moneda Extranjera (ME)</text>
<circle cx="563.5" cy="479.3" r="2.6" fill="#c8102e"/>
<circle cx="575.4" cy="479.3" r="2.6" fill="#c8102e"/>
<circle cx="587.5" cy="479.3" r="2.6" fill="#c8102e"/>
<text class="slab" x="598.2" y="483.5" font-weight="bold" fill="#1a335c" stroke="#1a335c" stroke-width="0.3" font-size="12.4" textLength="32.4" lengthAdjust="spacingAndGlyphs">%ME</text>
</svg></body></html>
